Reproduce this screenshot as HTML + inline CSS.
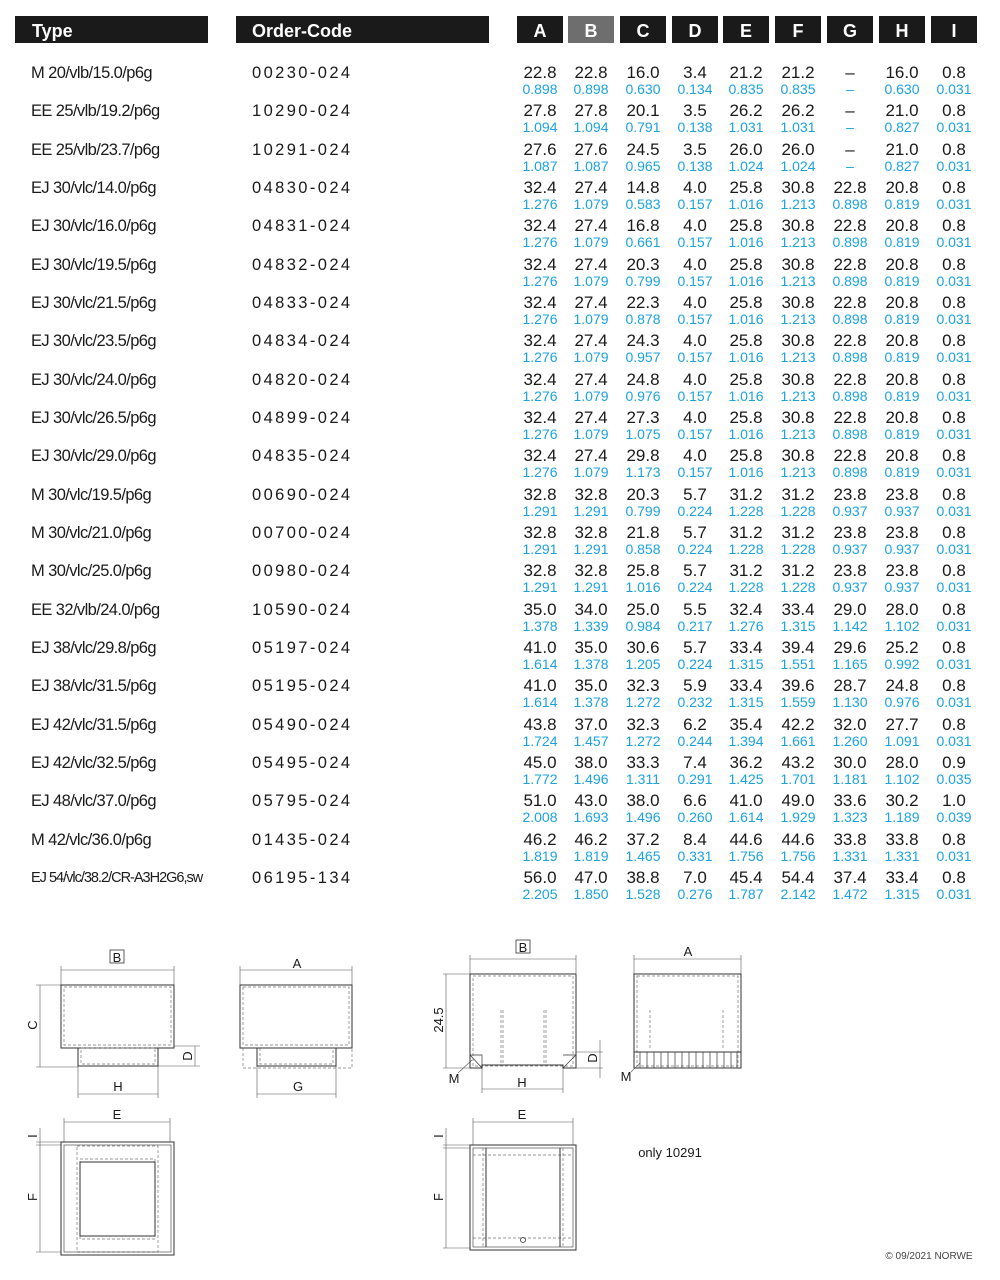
<!DOCTYPE html>
<html><head><meta charset="utf-8">
<style>
*{margin:0;padding:0;box-sizing:border-box}
body{width:1000px;height:1280px;background:#fff;position:relative;overflow:hidden;font-family:"Liberation Sans",sans-serif;color:#1a1a1a}
.h{position:absolute;top:16px;height:27px;background:#1a1a1a;color:#fff;font-weight:bold;font-size:18px;line-height:30px}
.hl{text-align:center;width:46px}
.r{position:absolute;left:0;width:1000px;height:38px}
.t{position:absolute;left:31px;top:0;font-size:16.5px;line-height:20px;letter-spacing:-0.6px}
.o{position:absolute;left:252px;top:0;font-size:16.5px;line-height:20px;letter-spacing:2.4px}
.v{position:absolute;top:0;width:56px;text-align:center;font-size:17px;line-height:20px}
.b{position:absolute;top:18px;width:56px;text-align:center;font-size:14px;line-height:16px;color:#1aa3e0}
.c1{left:512px}.c2{left:563px}.c3{left:615px}.c4{left:667px}.c5{left:718px}.c6{left:770px}.c7{left:822px}.c8{left:874px}.c9{left:926px}
svg{position:absolute;left:0;top:0}
</style></head><body>
<div class="h" style="left:15px;width:193px;padding-left:17px">Type</div>
<div class="h" style="left:236px;width:253px;padding-left:16px">Order-Code</div>
<div class="h hl" style="left:517px">A</div>
<div class="h hl" style="left:568px;background:#6e6e6e">B</div>
<div class="h hl" style="left:620px">C</div>
<div class="h hl" style="left:672px">D</div>
<div class="h hl" style="left:723px">E</div>
<div class="h hl" style="left:775px">F</div>
<div class="h hl" style="left:827px">G</div>
<div class="h hl" style="left:879px">H</div>
<div class="h hl" style="left:931px">I</div>

<div class="r" style="top:63px"><div class="t">M 20/vlb/15.0/p6g</div><div class="o">00230-024</div>
<div class="v c1">22.8</div><div class="v c2">22.8</div><div class="v c3">16.0</div><div class="v c4">3.4</div><div class="v c5">21.2</div><div class="v c6">21.2</div><div class="v c7">–</div><div class="v c8">16.0</div><div class="v c9">0.8</div>
<div class="b c1">0.898</div><div class="b c2">0.898</div><div class="b c3">0.630</div><div class="b c4">0.134</div><div class="b c5">0.835</div><div class="b c6">0.835</div><div class="b c7">–</div><div class="b c8">0.630</div><div class="b c9">0.031</div></div>

<div class="r" style="top:101px"><div class="t">EE 25/vlb/19.2/p6g</div><div class="o">10290-024</div>
<div class="v c1">27.8</div><div class="v c2">27.8</div><div class="v c3">20.1</div><div class="v c4">3.5</div><div class="v c5">26.2</div><div class="v c6">26.2</div><div class="v c7">–</div><div class="v c8">21.0</div><div class="v c9">0.8</div>
<div class="b c1">1.094</div><div class="b c2">1.094</div><div class="b c3">0.791</div><div class="b c4">0.138</div><div class="b c5">1.031</div><div class="b c6">1.031</div><div class="b c7">–</div><div class="b c8">0.827</div><div class="b c9">0.031</div></div>

<div class="r" style="top:140px"><div class="t">EE 25/vlb/23.7/p6g</div><div class="o">10291-024</div>
<div class="v c1">27.6</div><div class="v c2">27.6</div><div class="v c3">24.5</div><div class="v c4">3.5</div><div class="v c5">26.0</div><div class="v c6">26.0</div><div class="v c7">–</div><div class="v c8">21.0</div><div class="v c9">0.8</div>
<div class="b c1">1.087</div><div class="b c2">1.087</div><div class="b c3">0.965</div><div class="b c4">0.138</div><div class="b c5">1.024</div><div class="b c6">1.024</div><div class="b c7">–</div><div class="b c8">0.827</div><div class="b c9">0.031</div></div>

<div class="r" style="top:178px"><div class="t">EJ 30/vlc/14.0/p6g</div><div class="o">04830-024</div>
<div class="v c1">32.4</div><div class="v c2">27.4</div><div class="v c3">14.8</div><div class="v c4">4.0</div><div class="v c5">25.8</div><div class="v c6">30.8</div><div class="v c7">22.8</div><div class="v c8">20.8</div><div class="v c9">0.8</div>
<div class="b c1">1.276</div><div class="b c2">1.079</div><div class="b c3">0.583</div><div class="b c4">0.157</div><div class="b c5">1.016</div><div class="b c6">1.213</div><div class="b c7">0.898</div><div class="b c8">0.819</div><div class="b c9">0.031</div></div>

<div class="r" style="top:216px"><div class="t">EJ 30/vlc/16.0/p6g</div><div class="o">04831-024</div>
<div class="v c1">32.4</div><div class="v c2">27.4</div><div class="v c3">16.8</div><div class="v c4">4.0</div><div class="v c5">25.8</div><div class="v c6">30.8</div><div class="v c7">22.8</div><div class="v c8">20.8</div><div class="v c9">0.8</div>
<div class="b c1">1.276</div><div class="b c2">1.079</div><div class="b c3">0.661</div><div class="b c4">0.157</div><div class="b c5">1.016</div><div class="b c6">1.213</div><div class="b c7">0.898</div><div class="b c8">0.819</div><div class="b c9">0.031</div></div>

<div class="r" style="top:255px"><div class="t">EJ 30/vlc/19.5/p6g</div><div class="o">04832-024</div>
<div class="v c1">32.4</div><div class="v c2">27.4</div><div class="v c3">20.3</div><div class="v c4">4.0</div><div class="v c5">25.8</div><div class="v c6">30.8</div><div class="v c7">22.8</div><div class="v c8">20.8</div><div class="v c9">0.8</div>
<div class="b c1">1.276</div><div class="b c2">1.079</div><div class="b c3">0.799</div><div class="b c4">0.157</div><div class="b c5">1.016</div><div class="b c6">1.213</div><div class="b c7">0.898</div><div class="b c8">0.819</div><div class="b c9">0.031</div></div>

<div class="r" style="top:293px"><div class="t">EJ 30/vlc/21.5/p6g</div><div class="o">04833-024</div>
<div class="v c1">32.4</div><div class="v c2">27.4</div><div class="v c3">22.3</div><div class="v c4">4.0</div><div class="v c5">25.8</div><div class="v c6">30.8</div><div class="v c7">22.8</div><div class="v c8">20.8</div><div class="v c9">0.8</div>
<div class="b c1">1.276</div><div class="b c2">1.079</div><div class="b c3">0.878</div><div class="b c4">0.157</div><div class="b c5">1.016</div><div class="b c6">1.213</div><div class="b c7">0.898</div><div class="b c8">0.819</div><div class="b c9">0.031</div></div>

<div class="r" style="top:331px"><div class="t">EJ 30/vlc/23.5/p6g</div><div class="o">04834-024</div>
<div class="v c1">32.4</div><div class="v c2">27.4</div><div class="v c3">24.3</div><div class="v c4">4.0</div><div class="v c5">25.8</div><div class="v c6">30.8</div><div class="v c7">22.8</div><div class="v c8">20.8</div><div class="v c9">0.8</div>
<div class="b c1">1.276</div><div class="b c2">1.079</div><div class="b c3">0.957</div><div class="b c4">0.157</div><div class="b c5">1.016</div><div class="b c6">1.213</div><div class="b c7">0.898</div><div class="b c8">0.819</div><div class="b c9">0.031</div></div>

<div class="r" style="top:370px"><div class="t">EJ 30/vlc/24.0/p6g</div><div class="o">04820-024</div>
<div class="v c1">32.4</div><div class="v c2">27.4</div><div class="v c3">24.8</div><div class="v c4">4.0</div><div class="v c5">25.8</div><div class="v c6">30.8</div><div class="v c7">22.8</div><div class="v c8">20.8</div><div class="v c9">0.8</div>
<div class="b c1">1.276</div><div class="b c2">1.079</div><div class="b c3">0.976</div><div class="b c4">0.157</div><div class="b c5">1.016</div><div class="b c6">1.213</div><div class="b c7">0.898</div><div class="b c8">0.819</div><div class="b c9">0.031</div></div>

<div class="r" style="top:408px"><div class="t">EJ 30/vlc/26.5/p6g</div><div class="o">04899-024</div>
<div class="v c1">32.4</div><div class="v c2">27.4</div><div class="v c3">27.3</div><div class="v c4">4.0</div><div class="v c5">25.8</div><div class="v c6">30.8</div><div class="v c7">22.8</div><div class="v c8">20.8</div><div class="v c9">0.8</div>
<div class="b c1">1.276</div><div class="b c2">1.079</div><div class="b c3">1.075</div><div class="b c4">0.157</div><div class="b c5">1.016</div><div class="b c6">1.213</div><div class="b c7">0.898</div><div class="b c8">0.819</div><div class="b c9">0.031</div></div>

<div class="r" style="top:446px"><div class="t">EJ 30/vlc/29.0/p6g</div><div class="o">04835-024</div>
<div class="v c1">32.4</div><div class="v c2">27.4</div><div class="v c3">29.8</div><div class="v c4">4.0</div><div class="v c5">25.8</div><div class="v c6">30.8</div><div class="v c7">22.8</div><div class="v c8">20.8</div><div class="v c9">0.8</div>
<div class="b c1">1.276</div><div class="b c2">1.079</div><div class="b c3">1.173</div><div class="b c4">0.157</div><div class="b c5">1.016</div><div class="b c6">1.213</div><div class="b c7">0.898</div><div class="b c8">0.819</div><div class="b c9">0.031</div></div>

<div class="r" style="top:485px"><div class="t">M 30/vlc/19.5/p6g</div><div class="o">00690-024</div>
<div class="v c1">32.8</div><div class="v c2">32.8</div><div class="v c3">20.3</div><div class="v c4">5.7</div><div class="v c5">31.2</div><div class="v c6">31.2</div><div class="v c7">23.8</div><div class="v c8">23.8</div><div class="v c9">0.8</div>
<div class="b c1">1.291</div><div class="b c2">1.291</div><div class="b c3">0.799</div><div class="b c4">0.224</div><div class="b c5">1.228</div><div class="b c6">1.228</div><div class="b c7">0.937</div><div class="b c8">0.937</div><div class="b c9">0.031</div></div>

<div class="r" style="top:523px"><div class="t">M 30/vlc/21.0/p6g</div><div class="o">00700-024</div>
<div class="v c1">32.8</div><div class="v c2">32.8</div><div class="v c3">21.8</div><div class="v c4">5.7</div><div class="v c5">31.2</div><div class="v c6">31.2</div><div class="v c7">23.8</div><div class="v c8">23.8</div><div class="v c9">0.8</div>
<div class="b c1">1.291</div><div class="b c2">1.291</div><div class="b c3">0.858</div><div class="b c4">0.224</div><div class="b c5">1.228</div><div class="b c6">1.228</div><div class="b c7">0.937</div><div class="b c8">0.937</div><div class="b c9">0.031</div></div>

<div class="r" style="top:561px"><div class="t">M 30/vlc/25.0/p6g</div><div class="o">00980-024</div>
<div class="v c1">32.8</div><div class="v c2">32.8</div><div class="v c3">25.8</div><div class="v c4">5.7</div><div class="v c5">31.2</div><div class="v c6">31.2</div><div class="v c7">23.8</div><div class="v c8">23.8</div><div class="v c9">0.8</div>
<div class="b c1">1.291</div><div class="b c2">1.291</div><div class="b c3">1.016</div><div class="b c4">0.224</div><div class="b c5">1.228</div><div class="b c6">1.228</div><div class="b c7">0.937</div><div class="b c8">0.937</div><div class="b c9">0.031</div></div>

<div class="r" style="top:600px"><div class="t">EE 32/vlb/24.0/p6g</div><div class="o">10590-024</div>
<div class="v c1">35.0</div><div class="v c2">34.0</div><div class="v c3">25.0</div><div class="v c4">5.5</div><div class="v c5">32.4</div><div class="v c6">33.4</div><div class="v c7">29.0</div><div class="v c8">28.0</div><div class="v c9">0.8</div>
<div class="b c1">1.378</div><div class="b c2">1.339</div><div class="b c3">0.984</div><div class="b c4">0.217</div><div class="b c5">1.276</div><div class="b c6">1.315</div><div class="b c7">1.142</div><div class="b c8">1.102</div><div class="b c9">0.031</div></div>

<div class="r" style="top:638px"><div class="t">EJ 38/vlc/29.8/p6g</div><div class="o">05197-024</div>
<div class="v c1">41.0</div><div class="v c2">35.0</div><div class="v c3">30.6</div><div class="v c4">5.7</div><div class="v c5">33.4</div><div class="v c6">39.4</div><div class="v c7">29.6</div><div class="v c8">25.2</div><div class="v c9">0.8</div>
<div class="b c1">1.614</div><div class="b c2">1.378</div><div class="b c3">1.205</div><div class="b c4">0.224</div><div class="b c5">1.315</div><div class="b c6">1.551</div><div class="b c7">1.165</div><div class="b c8">0.992</div><div class="b c9">0.031</div></div>

<div class="r" style="top:676px"><div class="t">EJ 38/vlc/31.5/p6g</div><div class="o">05195-024</div>
<div class="v c1">41.0</div><div class="v c2">35.0</div><div class="v c3">32.3</div><div class="v c4">5.9</div><div class="v c5">33.4</div><div class="v c6">39.6</div><div class="v c7">28.7</div><div class="v c8">24.8</div><div class="v c9">0.8</div>
<div class="b c1">1.614</div><div class="b c2">1.378</div><div class="b c3">1.272</div><div class="b c4">0.232</div><div class="b c5">1.315</div><div class="b c6">1.559</div><div class="b c7">1.130</div><div class="b c8">0.976</div><div class="b c9">0.031</div></div>

<div class="r" style="top:715px"><div class="t">EJ 42/vlc/31.5/p6g</div><div class="o">05490-024</div>
<div class="v c1">43.8</div><div class="v c2">37.0</div><div class="v c3">32.3</div><div class="v c4">6.2</div><div class="v c5">35.4</div><div class="v c6">42.2</div><div class="v c7">32.0</div><div class="v c8">27.7</div><div class="v c9">0.8</div>
<div class="b c1">1.724</div><div class="b c2">1.457</div><div class="b c3">1.272</div><div class="b c4">0.244</div><div class="b c5">1.394</div><div class="b c6">1.661</div><div class="b c7">1.260</div><div class="b c8">1.091</div><div class="b c9">0.031</div></div>

<div class="r" style="top:753px"><div class="t">EJ 42/vlc/32.5/p6g</div><div class="o">05495-024</div>
<div class="v c1">45.0</div><div class="v c2">38.0</div><div class="v c3">33.3</div><div class="v c4">7.4</div><div class="v c5">36.2</div><div class="v c6">43.2</div><div class="v c7">30.0</div><div class="v c8">28.0</div><div class="v c9">0.9</div>
<div class="b c1">1.772</div><div class="b c2">1.496</div><div class="b c3">1.311</div><div class="b c4">0.291</div><div class="b c5">1.425</div><div class="b c6">1.701</div><div class="b c7">1.181</div><div class="b c8">1.102</div><div class="b c9">0.035</div></div>

<div class="r" style="top:791px"><div class="t">EJ 48/vlc/37.0/p6g</div><div class="o">05795-024</div>
<div class="v c1">51.0</div><div class="v c2">43.0</div><div class="v c3">38.0</div><div class="v c4">6.6</div><div class="v c5">41.0</div><div class="v c6">49.0</div><div class="v c7">33.6</div><div class="v c8">30.2</div><div class="v c9">1.0</div>
<div class="b c1">2.008</div><div class="b c2">1.693</div><div class="b c3">1.496</div><div class="b c4">0.260</div><div class="b c5">1.614</div><div class="b c6">1.929</div><div class="b c7">1.323</div><div class="b c8">1.189</div><div class="b c9">0.039</div></div>

<div class="r" style="top:830px"><div class="t">M 42/vlc/36.0/p6g</div><div class="o">01435-024</div>
<div class="v c1">46.2</div><div class="v c2">46.2</div><div class="v c3">37.2</div><div class="v c4">8.4</div><div class="v c5">44.6</div><div class="v c6">44.6</div><div class="v c7">33.8</div><div class="v c8">33.8</div><div class="v c9">0.8</div>
<div class="b c1">1.819</div><div class="b c2">1.819</div><div class="b c3">1.465</div><div class="b c4">0.331</div><div class="b c5">1.756</div><div class="b c6">1.756</div><div class="b c7">1.331</div><div class="b c8">1.331</div><div class="b c9">0.031</div></div>

<div class="r" style="top:868px"><div class="t" style="font-size:14.5px;letter-spacing:-1px">EJ 54/vlc/38.2/CR-A3H2G6,sw</div><div class="o">06195-134</div>
<div class="v c1">56.0</div><div class="v c2">47.0</div><div class="v c3">38.8</div><div class="v c4">7.0</div><div class="v c5">45.4</div><div class="v c6">54.4</div><div class="v c7">37.4</div><div class="v c8">33.4</div><div class="v c9">0.8</div>
<div class="b c1">2.205</div><div class="b c2">1.850</div><div class="b c3">1.528</div><div class="b c4">0.276</div><div class="b c5">1.787</div><div class="b c6">2.142</div><div class="b c7">1.472</div><div class="b c8">1.315</div><div class="b c9">0.031</div></div>

<svg width="1000" height="1280" viewBox="0 0 1000 1280" font-family="Liberation Sans, sans-serif" fill="none" stroke="#333" stroke-width="1">
<g stroke-width="0.6" stroke="#555">
<!-- left front -->
<line x1="61" y1="966" x2="61" y2="985"/><line x1="174" y1="966" x2="174" y2="985"/>
<line x1="61" y1="970" x2="174" y2="970"/>
<line x1="36" y1="985" x2="61" y2="985"/><line x1="36" y1="1067" x2="78" y2="1067"/>
<line x1="40" y1="985" x2="40" y2="1067"/>
<line x1="158" y1="1066" x2="200" y2="1066"/><line x1="174" y1="1046" x2="200" y2="1046"/>
<line x1="195" y1="1046" x2="195" y2="1066"/>
<line x1="78" y1="1066" x2="78" y2="1098"/><line x1="158" y1="1066" x2="158" y2="1098"/>
<line x1="78" y1="1094" x2="158" y2="1094"/>
<!-- right front -->
<line x1="240" y1="966" x2="240" y2="985"/><line x1="352" y1="966" x2="352" y2="985"/>
<line x1="240" y1="970" x2="352" y2="970"/>
<line x1="257" y1="1066" x2="257" y2="1098"/><line x1="336" y1="1066" x2="336" y2="1098"/>
<line x1="257" y1="1094" x2="336" y2="1094"/>
<!-- bottom left -->
<line x1="64" y1="1118" x2="64" y2="1142"/><line x1="170" y1="1118" x2="170" y2="1142"/>
<line x1="64" y1="1122" x2="170" y2="1122"/>
<line x1="36" y1="1142" x2="61" y2="1142"/><line x1="36" y1="1145" x2="61" y2="1145"/><line x1="36" y1="1252" x2="61" y2="1252"/>
<line x1="40" y1="1128" x2="40" y2="1252"/>
<!-- right diagrams dims -->
<line x1="470" y1="955" x2="470" y2="974"/><line x1="576" y1="955" x2="576" y2="974"/>
<line x1="470" y1="959" x2="576" y2="959"/>
<line x1="443" y1="974" x2="470" y2="974"/><line x1="443" y1="1068" x2="470" y2="1068"/>
<line x1="446" y1="974" x2="446" y2="1068"/>
<line x1="482" y1="1068" x2="482" y2="1093"/><line x1="563" y1="1068" x2="563" y2="1093"/>
<line x1="482" y1="1089" x2="563" y2="1089"/>
<line x1="600" y1="1040" x2="600" y2="1078"/><line x1="576" y1="1052" x2="603" y2="1052"/><line x1="563" y1="1068" x2="603" y2="1068"/>
<line x1="634" y1="955" x2="634" y2="974"/><line x1="741" y1="955" x2="741" y2="974"/>
<line x1="634" y1="959" x2="741" y2="959"/>
<line x1="473" y1="1118" x2="473" y2="1145"/><line x1="573" y1="1118" x2="573" y2="1145"/>
<line x1="473" y1="1122" x2="573" y2="1122"/>
<line x1="443" y1="1145" x2="470" y2="1145"/><line x1="443" y1="1148" x2="470" y2="1148"/><line x1="443" y1="1248" x2="470" y2="1248"/>
<line x1="446" y1="1128" x2="446" y2="1248"/>
<line x1="458" y1="1073" x2="472" y2="1060"/><line x1="631" y1="1072" x2="640" y2="1063"/>
</g>
<!-- left front body -->
<rect x="61" y="985" width="113" height="63"/>
<rect x="78" y="1048" width="80" height="18"/>
<g stroke-dasharray="3,2" stroke-width="0.7" stroke="#777">
<rect x="64" y="987" width="107" height="58"/><rect x="81" y="1048" width="74" height="16"/>
<rect x="243" y="987" width="106" height="58"/><rect x="243" y="1048" width="109" height="20"/><rect x="260" y="1048" width="73" height="16"/>
<rect x="77" y="1146" width="81" height="106"/><rect x="80" y="1159" width="75" height="80"/>
<rect x="473" y="976" width="100" height="90"/><rect x="637" y="976" width="101" height="90"/>
<line x1="501" y1="1010" x2="501" y2="1066"/><line x1="503" y1="1010" x2="503" y2="1066"/>
<line x1="544" y1="1010" x2="544" y2="1066"/><line x1="546" y1="1010" x2="546" y2="1066"/>
<line x1="650" y1="1010" x2="650" y2="1050"/><line x1="723" y1="1010" x2="723" y2="1050"/>
<line x1="473" y1="1155" x2="573" y2="1155"/><line x1="473" y1="1238" x2="573" y2="1238"/>
<line x1="483" y1="1148" x2="483" y2="1248"/><line x1="563" y1="1148" x2="563" y2="1248"/>
</g>
<rect x="240" y="985" width="112" height="63"/>
<rect x="257" y="1048" width="79" height="18"/>
<rect x="61" y="1142" width="113" height="113"/>
<rect x="64" y="1145" width="107" height="107" stroke-width="0.6"/>
<rect x="80" y="1162" width="75" height="74"/>
<!-- right front -->
<polyline points="470,974 470,1068 482,1068 482,1065 563,1065 563,1068 576,1068 576,974"/>
<line x1="470" y1="974" x2="576" y2="974"/>
<path d="M470 1055 L482 1055 L482 1068 M470 1055 L482 1068 M563 1068 L576 1055 L563 1055" stroke-width="0.7"/>
<rect x="634" y="974" width="107" height="94"/>
<line x1="634" y1="1052" x2="741" y2="1052"/>
<g stroke-width="0.7">
<line x1="640" y1="1052" x2="640" y2="1068"/><line x1="647" y1="1052" x2="647" y2="1068"/><line x1="654" y1="1052" x2="654" y2="1068"/><line x1="661" y1="1052" x2="661" y2="1068"/><line x1="668" y1="1052" x2="668" y2="1068"/><line x1="675" y1="1052" x2="675" y2="1068"/><line x1="682" y1="1052" x2="682" y2="1068"/><line x1="689" y1="1052" x2="689" y2="1068"/><line x1="696" y1="1052" x2="696" y2="1068"/><line x1="703" y1="1052" x2="703" y2="1068"/><line x1="710" y1="1052" x2="710" y2="1068"/><line x1="717" y1="1052" x2="717" y2="1068"/><line x1="724" y1="1052" x2="724" y2="1068"/><line x1="731" y1="1052" x2="731" y2="1068"/><line x1="737" y1="1052" x2="737" y2="1068"/>
</g>
<rect x="470" y="1145" width="106" height="105"/>
<rect x="473" y="1148" width="100" height="99" stroke-width="0.6"/>
<line x1="486" y1="1148" x2="486" y2="1247"/><line x1="560" y1="1148" x2="560" y2="1247"/>
<circle cx="523" cy="1240" r="2.5" stroke-width="0.8"/>
<!-- labels -->
<rect x="110" y="950" width="14" height="13" stroke-width="0.8"/>
<rect x="516" y="940" width="14" height="13" stroke-width="0.8"/>
<g fill="#1a1a1a" stroke="none" font-size="13" text-anchor="middle">
<text x="117" y="962">B</text><text x="297" y="968">A</text>
<text x="118" y="1091">H</text><text x="298" y="1091">G</text>
<text x="117" y="1119">E</text>
<text x="523" y="952">B</text><text x="688" y="956">A</text>
<text x="522" y="1087">H</text><text x="522" y="1119">E</text>
<text x="454" y="1083">M</text><text x="626" y="1081">M</text>
<text transform="translate(37,1025) rotate(-90)">C</text>
<text transform="translate(192,1056) rotate(-90)">D</text>
<text transform="translate(37,1136) rotate(-90)">I</text>
<text transform="translate(37,1197) rotate(-90)">F</text>
<text transform="translate(443,1020) rotate(-90)">24.5</text>
<text transform="translate(597,1058) rotate(-90)">D</text>
<text transform="translate(443,1136) rotate(-90)">I</text>
<text transform="translate(443,1197) rotate(-90)">F</text>
<text x="670" y="1157" text-anchor="middle">only 10291</text>
<text x="929" y="1259" font-size="10" fill="#444">© 09/2021 NORWE</text>
</g>
</svg>
</body></html>
